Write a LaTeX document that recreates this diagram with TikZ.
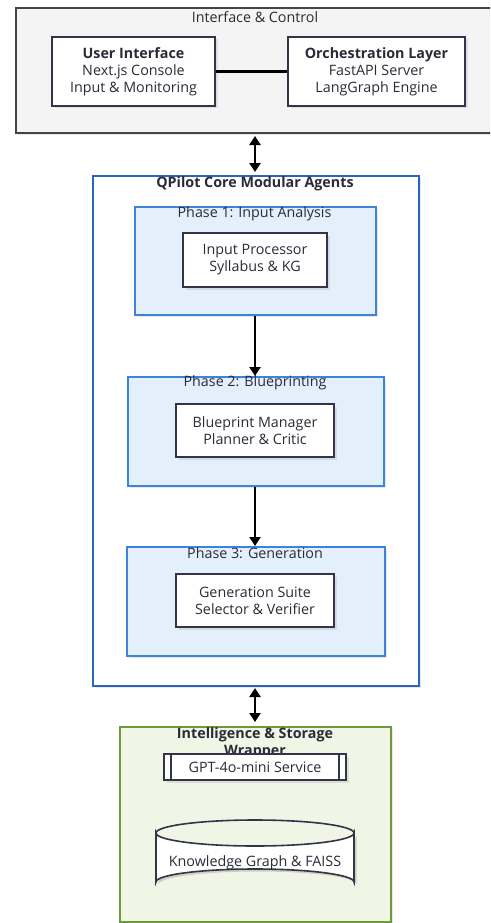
\documentclass[tikz,border=0pt]{standalone}
\usepackage{fontspec}
\setmainfont{Open Sans}
\usetikzlibrary{arrows.meta,shadows}
\definecolor{txt}{HTML}{2B2B38}
\definecolor{edge}{HTML}{33334A}
\definecolor{greyfill}{HTML}{F4F4F4}
\definecolor{greyedge}{HTML}{444444}
\definecolor{bluefill}{HTML}{E3F0FB}
\definecolor{blueedge}{HTML}{3D84D6}
\definecolor{coreedge}{HTML}{2F63B8}
\definecolor{greenfill}{HTML}{F0F5E6}
\definecolor{greenedge}{HTML}{6A9A3C}
\tikzset{
  shd/.style={drop shadow={opacity=0.18,shadow xshift=2.5pt,shadow yshift=-2.5pt}},
  group/.style={draw,line width=1.6pt,shd},
  inner/.style={draw=edge,fill=white,line width=2pt,shd,text=txt,align=center,font=\fontsize{14.3}{17}\selectfont},
  ttl/.style={text=txt,font=\fontsize{14.3}{17}\selectfont},
  btl/.style={text=txt,font=\fontsize{14.3}{17}\selectfont\bfseries},
  conn/.style={line width=2.4pt,black},
  arr/.style={conn,-{Triangle[length=9pt,width=11pt]}},
  darr/.style={conn,{Triangle[length=9pt,width=11pt]}-{Triangle[length=9pt,width=11pt]}},
}
\begin{document}
\begin{tikzpicture}[x=1pt,y=-1pt]
\useasboundingbox (0,0) rectangle (490,923);
\clip (0,0) rectangle (490,923);
% top group
\node[group,draw=greyedge,fill=greyfill,minimum width=485,minimum height=125,anchor=north west] (top) at (15,7) {};
\node[ttl] (toptitle) at (255,17) {Interface \& Control};
\node[inner,minimum width=163,minimum height=69] (ui) at (133.5,71.5) {\textbf{User Interface}\\Next.js Console\\Input \& Monitoring};
\node[inner,minimum width=177,minimum height=69] (orch) at (376.5,71.5) {\textbf{Orchestration Layer}\\FastAPI Server\\LangGraph Engine};
\draw[conn] (ui) -- (orch);
% core group
\node[group,draw=coreedge,fill=white,minimum width=326,minimum height=510,anchor=north west] (core) at (92,175) {};
\node[btl] (coretitle) at (255,184) {QPilot Core Modular Agents};
\draw[darr] (255,136) coordinate (a1) -- (255,172) coordinate (a2);
% phase 1
\node[group,draw=blueedge,fill=bluefill,minimum width=241,minimum height=108,anchor=north west] (p1) at (134,206) {};
\node[ttl] (p1t) at (254.5,214) {Phase 1: Input Analysis};
\node[inner,minimum width=144,minimum height=54] (ip) at (255,260) {Input Processor\\Syllabus \& KG};
% phase 2
\node[group,draw=blueedge,fill=bluefill,minimum width=256,minimum height=109,anchor=north west] (p2) at (127,376) {};
\node[ttl] (p2t) at (255,383) {Phase 2: Blueprinting};
\node[inner,minimum width=158,minimum height=53] (bp) at (255,430.5) {Blueprint Manager\\Planner \& Critic};
% phase 3
\node[group,draw=blueedge,fill=bluefill,minimum width=258,minimum height=109,anchor=north west] (p3) at (126,546) {};
\node[ttl] (p3t) at (255,553) {Phase 3: Generation};
\node[inner,minimum width=158,minimum height=53] (gs) at (255,600.5) {Generation Suite\\Selector \& Verifier};
\draw[arr] (p1.south -| 255,0) -- (p2.north -| 255,0);
\draw[arr] (p2.south -| 255,0) -- (p3.north -| 255,0);
% bottom group
\node[group,draw=greenedge,fill=greenfill,minimum width=271,minimum height=195,anchor=north west] (bot) at (119,726) {};
\draw[darr] (255,688) coordinate (b1) -- (255,722) coordinate (b2);
\node[btl,align=center,anchor=north,inner sep=0pt] (bott) at (255,727) {Intelligence \& Storage\\Wrapper};
% GPT subroutine
\node[inner,minimum width=182,minimum height=26,line width=1.6pt,inner sep=1pt] (gpt) at (255,767) {GPT-4o-mini Service};
\draw[edge,line width=1.6pt] ([xshift=8]gpt.north west) -- ([xshift=8]gpt.south west);
\draw[edge,line width=1.6pt] ([xshift=-8]gpt.north east) -- ([xshift=-8]gpt.south east);
% cylinder
\fill[black,opacity=0.15] (158.5,835.5) -- (158.5,884.5) arc[start angle=180,end angle=360,x radius=99,y radius=13] -- (356.5,835.5) arc[start angle=0,end angle=180,x radius=99,y radius=13] -- cycle;
\filldraw[fill=white,draw=edge,line width=1.6pt] (156,833) -- (156,882) arc[start angle=180,end angle=360,x radius=99,y radius=13] -- (354,833) arc[start angle=0,end angle=180,x radius=99,y radius=13] -- cycle;
\draw[edge,line width=1.6pt] (156,833) arc[start angle=180,end angle=360,x radius=99,y radius=13];
\node[text=txt,font=\fontsize{14.3}{17}\selectfont] (kg) at (255,863) {Knowledge Graph \& FAISS};
\end{tikzpicture}
\end{document}
